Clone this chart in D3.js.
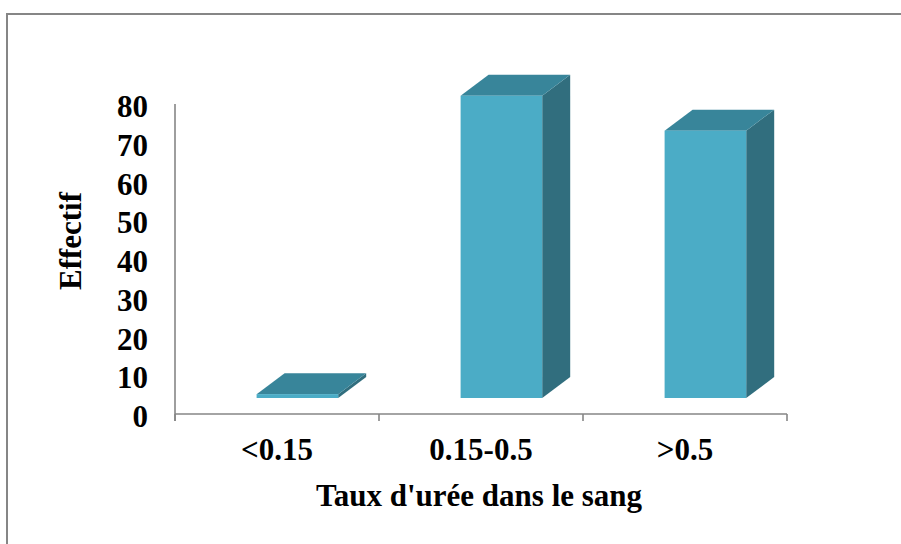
<!DOCTYPE html>
<html>
<head>
<meta charset="utf-8">
<script src="https://cdn.jsdelivr.net/npm/d3@7"></script>
<style>
  html, body { margin: 0; padding: 0; background: #fff; }
  svg text { font-family: "Liberation Serif", "Times New Roman", serif; font-weight: bold; fill: #000; }
</style>
</head>
<body>
<svg id="chart" width="901" height="544"></svg>
<script>
// Blood urea levels: number of patients per class
const categories = ["<0.15", "0.15-0.5", ">0.5"];
const counts = [1, 78, 69];
const yTicks = [0, 10, 20, 30, 40, 50, 60, 70, 80];
const xTitle = "Taux d'urée dans le sang";
const yTitle = "Effectif";

const svg = d3.select("#chart");
const W = 901, H = 544;
const plot = { left: 175, right: 787, top: 104, bottom: 414 };
const fontSize = 31;

// 3D bar depth offsets and floor lift of the bar fronts
const depthX = 28, depthY = 21, floorLift = 16;
const colFront = "#4BACC6", colTop = "#38859A", colSide = "#316E7E";
const axisColor = "#868686";

// Outer frame
svg.append("rect")
  .attr("x", 7).attr("y", 14)
  .attr("width", W + 20).attr("height", H + 20)
  .attr("fill", "none").attr("stroke", axisColor).attr("stroke-width", 2);

const x = d3.scaleBand().domain(categories).range([plot.left, plot.right]).padding(0);
const y = d3.scaleLinear().domain([0, 80]).range([plot.bottom, plot.top]);

// Bars as prisms: side, top, then front face
const bars = svg.append("g").selectAll("g")
  .data(categories.map((c, i) => ({ c, v: counts[i] })))
  .join("g");

bars.each(function(d) {
  const g = d3.select(this);
  const bw = x.bandwidth();
  const x0 = x(d.c) + 0.4 * bw, x1 = x(d.c) + 0.8 * bw;
  const yb = y(0) - floorLift, yt = y(d.v) - floorLift;
  const pts = a => a.map(p => p.join(",")).join(" ");
  g.append("polygon")
    .attr("points", pts([[x1, yt], [x1 + depthX, yt - depthY], [x1 + depthX, yb - depthY], [x1, yb]]))
    .attr("fill", colSide);
  g.append("polygon")
    .attr("points", pts([[x0, yt], [x0 + depthX, yt - depthY], [x1 + depthX, yt - depthY], [x1, yt]]))
    .attr("fill", colTop);
  g.append("rect")
    .attr("x", x0).attr("y", yt)
    .attr("width", x1 - x0).attr("height", yb - yt)
    .attr("fill", colFront);
});

// Axes
const axisG = svg.append("g").attr("stroke", axisColor).attr("stroke-width", 1.6).attr("fill", "none");
axisG.append("line").attr("x1", plot.left).attr("x2", plot.left).attr("y1", plot.top).attr("y2", plot.bottom + 7);
axisG.append("line").attr("x1", plot.left).attr("x2", plot.right).attr("y1", plot.bottom).attr("y2", plot.bottom);
const xEdges = categories.map(c => x(c)).concat([x(categories[categories.length - 1]) + x.bandwidth()]);
axisG.selectAll("line.tick").data(xEdges).join("line")
  .attr("class", "tick")
  .attr("x1", d => d).attr("x2", d => d)
  .attr("y1", plot.bottom).attr("y2", plot.bottom + 7);

// Y tick labels
svg.append("g").selectAll("text").data(yTicks).join("text")
  .attr("x", 148).attr("y", d => y(d) + 13)
  .attr("text-anchor", "end")
  .attr("font-size", fontSize)
  .text(d => d);

// X category labels
svg.append("g").selectAll("text").data(categories).join("text")
  .attr("x", d => x(d) + x.bandwidth() / 2).attr("y", 460)
  .attr("text-anchor", "middle")
  .attr("font-size", fontSize)
  .text(d => d);

// Axis titles
svg.append("text")
  .attr("x", 479).attr("y", 506)
  .attr("text-anchor", "middle")
  .attr("font-size", fontSize)
  .text(xTitle);

svg.append("text")
  .attr("transform", "translate(81,241) rotate(-90)")
  .attr("text-anchor", "middle")
  .attr("font-size", fontSize)
  .text(yTitle);
</script>
</body>
</html>
